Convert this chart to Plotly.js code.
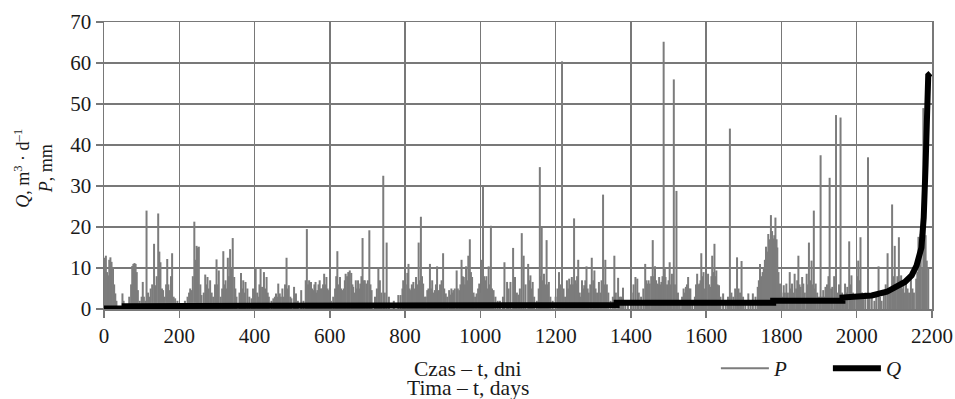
<!DOCTYPE html>
<html><head><meta charset="utf-8">
<script src="https://cdn.plot.ly/plotly-3.0.1.min.js"></script>
<style>html,body{margin:0;padding:0;background:#fff}#chart{width:955px;height:399px}</style>
</head><body><div id="chart"></div>
<script>
// Daily precipitation P (day, mm)
const pDays = [2,5,8,11,14,17,20,24,27,30,33,49,52,67,72,75,78,81,84,87,90,95,100,103,106,110,113,117,120,124,128,133,137,140,144,147,150,154,157,161,165,168,171,174,178,181,185,189,195,
215,222,226,229,232,236,240,243,246,249,252,256,259,265,269,272,275,278,282,286,290,295,299,302,305,310,314,317,320,323,326,329,332,335,338,342,346,349,352,360,364,367,370,373,376,381,386,392,396,
400,403,407,410,413,416,420,425,428,432,435,438,445,450,454,457,460,463,467,470,474,478,481,485,488,491,495,498,505,510,515,524,530,536,539,542,545,548,550,553,556,559,562,565,567,570,573,576,579,582,585,588,591,594,597,
603,609,614,617,620,623,627,630,633,637,640,642,646,649,653,657,660,662,666,669,672,675,678,681,684,687,690,693,697,701,705,708,711,720,725,729,733,737,742,746,751,757,770,782,788,793,795,799,
802,806,809,812,815,818,820,822,826,829,832,836,839,842,845,848,852,855,859,862,866,869,872,875,879,882,885,888,890,893,897,901,904,908,912,917,920,923,926,928,932,937,940,944,947,950,953,956,959,962,965,968,972,975,978,982,986,990,994,997,
1001,1004,1007,1010,1013,1016,1019,1022,1025,1028,1031,1035,1040,1046,1052,1060,1064,1071,1075,1080,1087,1092,1097,1101,1105,1110,1115,1120,1127,1130,1133,1136,1139,1143,1150,1155,1158,1161,1163,1166,1169,1172,1176,1179,1182,1186,1192,
1200,1205,1209,1213,1217,1221,1225,1230,1233,1236,1240,1243,1246,1249,1252,1254,1257,1260,1264,1267,1270,1273,1276,1279,1282,1285,1288,1292,1296,1300,1303,1306,1310,1315,1319,1322,1326,1329,1332,1336,1340,1346,1352,1356,1360,1366,1370,1374,1379,1385,1392,
1402,1407,1412,1417,1421,1427,1433,1438,1441,1444,1447,1450,1454,1458,1461,1464,1467,1470,1473,1475,1478,1481,1484,1487,1490,1492,1496,1500,1503,1506,1509,1514,1517,1521,1525,1530,1536,1540,1543,1546,1549,1552,1555,1558,1563,1570,1573,1576,1579,1582,1585,1587,1590,1593,1596,
1600,1605,1608,1611,1614,1616,1619,1622,1625,1627,1630,1634,1638,1645,1652,1658,1663,1667,1672,1677,1682,1686,1690,1694,1698,1704,1712,1718,1724,1731,1737,1740,1743,1746,1750,1753,1756,1759,1762,1765,1768,1772,1775,1778,1781,1784,1787,1789,1792,1796,
1800,1803,1806,1809,1813,1817,1822,1825,1828,1831,1835,1839,1842,1845,1848,1851,1855,1858,1862,1867,1870,1873,1876,1880,1883,1886,1889,1891,1895,1900,1904,1908,1911,1914,1917,1921,1925,1928,1932,1935,1940,1945,1949,1953,1957,1961,1965,1969,1972,1975,1980,1983,1986,1990,1995,
2001,2004,2007,2010,2014,2018,2023,2030,2034,2040,2047,2052,2058,2062,2066,2072,2077,2082,2086,2090,2094,2097,2101,2104,2108,2112,2115,2118,2121,2124,2128,2131,2135,2139,2144,2148,2152,2158,2161,2164,2167,2170,2174,2177,2180,2183,2186,2190];
const pVals = [12.5,13.0,9,8.2,12.0,12.6,11.5,10.2,6,3.8,2,3.8,2,3,6,10.5,11.0,11.2,11.0,9,4.6,2,3,6.6,3,2,24.0,4,3,5,6,15.9,5.8,8,23.3,14,11.4,5,4.6,3,6,12.2,6,4.6,8,13.6,3,2.6,2,
2,3.0,4,5,4.6,8,21.3,12,15.4,15.0,15.2,6,3.4,4,8.4,6,7.8,5,7.0,4,3.0,6,12.1,6,9.4,3.0,5,14.1,6,7.0,5,12.5,8,14.6,10,17.3,7.8,5,3.0,4,8.8,5,7.0,4,6.6,5.0,3,2.6,5.0,
3,10.2,4,3.0,6,10.2,5.4,9.0,5,7.8,4,3.0,2,2.6,3,3.8,3,6.2,3.8,3,5.0,3,6,12.5,5,5.8,3,2.6,5.4,3.8,2,4.6,2,7,19.5,6,7.0,5,6.6,5,4.6,6,6.6,4,4.6,6,7.0,5,5.0,6,8.6,6,7.8,5,4.6,
2,3.0,5,8,14.1,6,7.8,5,4.6,5,7,8.6,8,9.0,9.4,8.8,6,5.4,4,7.0,5,7.0,5,6.2,8,17.3,7,7.0,6.2,7,19.2,6,4.6,3,5,10.2,7.0,4,32.5,4,16.2,3.0,2,3.4,3.4,5,7.0,4.6,
6,8.8,11.0,5,4.6,6,5,6.6,5,7.8,6,16.2,7,22.5,8,6.2,3,3,4.6,5,11.0,5,7.0,4,4.6,6,10.4,4,4.6,6,7,13.6,5,3.8,3,4.6,3.5,5.0,4,4.6,5,9.4,5,4.6,6,12.0,8,7.8,6,10.4,7,13.0,17.0,9,7.8,4,3,3.8,5,6.2,
4,12,29.8,8,7.0,8,5,10.4,6,20.3,5,4.6,3.0,2,2,3,11.4,6.6,5,6.6,14.9,7.8,4,3.5,5,18.5,13.0,6,11.0,7,8.2,5,6.6,3,2,5,34.6,8,20,7,8.6,6,16.8,6,6.6,3,2,
3,5,9.0,6,60.4,5,3,7,5,7.4,6,7.8,6,22.1,7,6.2,8,12.0,4,3,7,5,5.8,7,10.4,5,4,6,12.5,7,9.4,5,4,6.6,4,7,27.9,6,12.0,6,4,2,3,13.0,4,7.6,3,3,5.2,2,2,
4,6,7.8,7.4,4,3,5,11.0,7,6.2,7,6.2,8,16.8,8,10.4,7,6.2,6,7.8,6,6.6,8,65.2,10,7.8,6,7,11.4,6,8.6,56.0,6,28.8,4,2,3,5.0,4,5.4,6,7.8,5,5.0,2,3,6,8.6,6,6.2,7,13.6,8,9.0,5,
6,8.6,6,5.4,8,13.0,9,15.9,8,9.4,6,5.8,3,3.8,2,3,44.0,4,3,5,12.6,5,4,11.7,3,2,3.8,2,3.8,3,5.4,7,11.0,8,9.0,10,12,15.2,14,18.3,17,22.9,19,17.2,18,22.3,17,15.0,9,6.2,
4,3,5.8,4,6.2,4,9.0,5,6.2,4,8.6,5,7,13.0,6,5.4,7.8,6.2,4,8.6,6,16.2,7,11.8,6,24.0,5,6.2,4,3,37.5,3,4.6,3,5.4,6,8,32.0,5,5.4,8,47.3,4,6,46.7,4,3,6.2,4,5.4,16.5,6,8.2,4,3,
8,11.8,7,17.5,4,3,4,37.0,3,3,2,3,10.4,3,2,4,6,13.6,4,5,25.5,8,15.4,6,8,17.5,7,8.2,5,6.2,4,7.4,5,4,7.8,5,4,7.4,9,17.6,12,18.3,10,49,20,18,11.8,10];

// Discharge Q (day, m3/d)
const qDays = [0,55,55,580,580,1362,1362,1778,1778,1962,1962,2000,2040,2080,2106,2128,2146,2159,2172,2178,2183,2187,2190,2196];
const qVals = [0.15,0.15,0.7,0.7,1.0,1.0,1.5,1.5,2.0,2.0,2.8,2.9,3.3,4.2,5.4,6.6,8.2,10.6,15.0,22.3,35.2,51.2,57.0,57.5];

const xTicks = [0,200,400,600,800,1000,1200,1400,1600,1800,2000,2200];
const yTicks = [0,10,20,30,40,50,60,70];

const px = [], py = [];
pDays.forEach((d, i) => { px.push(d, d, null); py.push(0, pVals[i], null); });

const gridC = '#787878';
const FONT = 'Liberation Serif, Times New Roman, serif';
const TXT = '#1a1a1a';

const traces = [
  {x: px, y: py, type: 'scatter', mode: 'lines', name: '<i>P</i>',
   line: {color: '#7c7c7c', width: 2}, connectgaps: false, hoverinfo: 'skip'},
  {x: qDays, y: qVals, type: 'scatter', mode: 'lines', name: '<i>Q</i>',
   line: {color: '#000', width: 6}}
];

const axisCommon = {
  ticks: 'outside', ticklen: 7, tickwidth: 1.5, tickcolor: gridC,
  showgrid: true, gridcolor: gridC, gridwidth: 1.5,
  showline: true, linecolor: gridC, linewidth: 1.5, mirror: true,
  zeroline: false, automargin: false, tickfont: {family: FONT, size: 21, color: TXT}
};

const layout = {
  width: 955, height: 399,
  margin: {l: 104, r: 23, t: 22, b: 90, autoexpand: false},
  paper_bgcolor: '#fff', plot_bgcolor: '#fff',
  font: {family: FONT, size: 20, color: TXT},
  xaxis: Object.assign({range: [0, 2200], tickvals: xTicks, ticktext: xTicks.map(String)}, axisCommon),
  yaxis: Object.assign({range: [0, 70], tickvals: yTicks, ticktext: yTicks.map(String)}, axisCommon),
  showlegend: true,
  legend: {orientation: 'h', x: 0.739, y: -0.136, xanchor: 'left', yanchor: 'top',
           font: {family: FONT, size: 21, color: TXT}, bgcolor: 'rgba(0,0,0,0)',
           itemwidth: 48, entrywidth: 49, entrywidthmode: 'pixels'},
  annotations: [
    {text: 'Czas – t, dni', xref: 'paper', yref: 'paper',
     x: 0.4396, y: -0.2103, xanchor: 'center', yanchor: 'middle', showarrow: false,
     font: {family: FONT, size: 21.5, color: TXT}},
    {text: 'Tima – t, days', xref: 'paper', yref: 'paper',
     x: 0.4396, y: -0.2759, xanchor: 'center', yanchor: 'middle', showarrow: false,
     font: {family: FONT, size: 21.5, color: TXT}},
    {text: '<i>Q</i>, m<sup>3</sup> · d<sup>–1</sup><br><i>P</i>, mm', xref: 'paper', yref: 'paper',
     x: -0.085, y: 0.491, xanchor: 'center', yanchor: 'middle', showarrow: false, textangle: -90,
     font: {family: FONT, size: 18, color: TXT}}
  ]
};

Plotly.newPlot('chart', traces, layout, {displayModeBar: false, staticPlot: true});
</script>
</body></html>
